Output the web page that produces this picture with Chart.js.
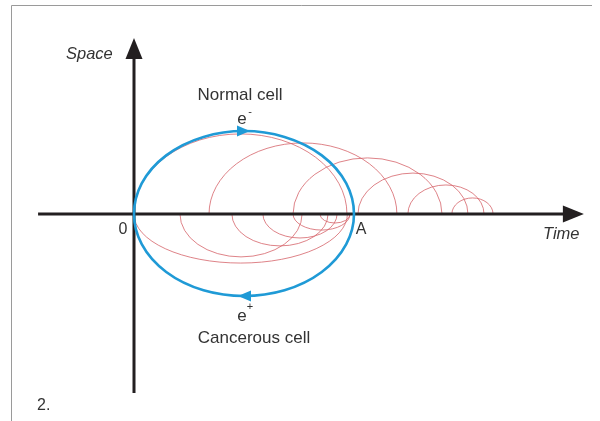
<!DOCTYPE html>
<html lang="en">
<head>
<meta charset="UTF-8">
<title>Normal cell / Cancerous cell</title>
<style>
  html, body { margin: 0; padding: 0; background: #fff; }
  #wrap { width: 600px; height: 421px; position: relative; }
</style>
</head>
<body>
<div id="wrap"><canvas id="chart"></canvas></div>

<script src="https://cdn.jsdelivr.net/npm/chart.js@4/dist/chart.umd.min.js"></script>
<script>
  // units: time 0 .. A = 10, space in the same units

  // normal cell (blue): start, end, height above axis, depth below axis
  const normalStart = 0;
  const normalEnd = 10;
  const normalUp = 3.77;
  const normalDown = 3.73;

  // cancerous cells, upper arcs
  const upperStart  = [0, 3.41, 7.23, 10.18, 12.45, 14.45];
  const upperEnd    = [9.68, 11.95, 14.0, 15.18, 15.91, 16.32];
  const upperHeight = [3.64, 3.23, 2.55, 1.86, 1.32, 0.73];

  // cancerous cells, lower arcs
  const lowerStart = [0, 2.09, 4.45, 5.86, 7.23, 8.45];
  const lowerEnd   = [9.7, 7.64, 8.82, 9.23, 9.82, 9.82];
  const lowerDepth = [2.23, 1.95, 1.45, 1.09, 0.73, 0.41];

  // axis extents
  const timeAxis = [-4.36, 20.45];
  const spaceAxis = [-8.14, 8.0];

  const RED = "rgba(214,100,106,0.8)";
  const BLUE = "#1f9ad6";
  const INK = "#231f20";
  const TEXT = "#333";
  const FONT = "'Liberation Sans', Arial, sans-serif";

  // half ellipse between two points of the time axis
  function halfArc(ctx, sx, sy, t0, t1, h, upper) {
    const x0 = sx.getPixelForValue(t0);
    const x1 = sx.getPixelForValue(t1);
    const y0 = sy.getPixelForValue(0);
    const ry = Math.abs(sy.getPixelForValue(h) - y0);
    ctx.beginPath();
    if (upper) ctx.ellipse((x0 + x1) / 2, y0, (x1 - x0) / 2, ry, 0, Math.PI, 2 * Math.PI);
    else ctx.ellipse((x0 + x1) / 2, y0, (x1 - x0) / 2, ry, 0, 0, Math.PI);
    ctx.stroke();
  }

  function tri(ctx, pts) {
    ctx.beginPath();
    ctx.moveTo(pts[0][0], pts[0][1]);
    ctx.lineTo(pts[1][0], pts[1][1]);
    ctx.lineTo(pts[2][0], pts[2][1]);
    ctx.closePath();
    ctx.fill();
  }

  const cellsPlugin = {
    id: "cells",
    beforeDatasetsDraw(chart) {
      const ctx = chart.ctx;
      const sx = chart.scales.x;
      const sy = chart.scales.y;
      ctx.save();

      // frame
      ctx.strokeStyle = "#9a9a9a";
      ctx.lineWidth = 1;
      ctx.beginPath();
      ctx.moveTo(11.5, 421);
      ctx.lineTo(11.5, 5.5);
      ctx.lineTo(592, 5.5);
      ctx.stroke();

      // red cells
      ctx.strokeStyle = RED;
      ctx.lineWidth = 1;
      for (let i = 0; i < upperStart.length; i++) {
        halfArc(ctx, sx, sy, upperStart[i], upperEnd[i], upperHeight[i], true);
      }
      for (let i = 0; i < lowerStart.length; i++) {
        halfArc(ctx, sx, sy, lowerStart[i], lowerEnd[i], lowerDepth[i], false);
      }

      // axes
      const ox = sx.getPixelForValue(0);
      const oy = sy.getPixelForValue(0);
      const xa = sx.getPixelForValue(timeAxis[0]);
      const xb = sx.getPixelForValue(timeAxis[1]);
      const ya = sy.getPixelForValue(spaceAxis[0]);
      const yb = sy.getPixelForValue(spaceAxis[1]);
      ctx.strokeStyle = INK;
      ctx.fillStyle = INK;
      ctx.lineWidth = 3;
      ctx.beginPath();
      ctx.moveTo(xa, oy);
      ctx.lineTo(xb - 16, oy);
      ctx.moveTo(ox, ya);
      ctx.lineTo(ox, yb + 16);
      ctx.stroke();
      tri(ctx, [[xb, oy], [xb - 21, oy - 8.5], [xb - 21, oy + 8.5]]);
      tri(ctx, [[ox, yb], [ox - 8.5, yb + 21], [ox + 8.5, yb + 21]]);

      // normal cell
      ctx.strokeStyle = BLUE;
      ctx.fillStyle = BLUE;
      ctx.lineWidth = 2.6;
      halfArc(ctx, sx, sy, normalStart, normalEnd, normalUp, true);
      halfArc(ctx, sx, sy, normalStart, normalEnd, normalDown, false);
      const mx = sx.getPixelForValue((normalStart + normalEnd) / 2);
      const ty = sy.getPixelForValue(normalUp);
      const by = sy.getPixelForValue(-normalDown);
      tri(ctx, [[mx + 6, ty], [mx - 7, ty - 5.5], [mx - 7, ty + 5.5]]);
      tri(ctx, [[mx - 6, by], [mx + 7, by - 5.5], [mx + 7, by + 5.5]]);

      // labels
      ctx.fillStyle = TEXT;
      ctx.textBaseline = "alphabetic";
      ctx.font = "17px " + FONT;
      ctx.textAlign = "center";
      ctx.fillText("Normal cell", 240, 100);
      ctx.fillText("Cancerous cell", 254, 343);
      ctx.fillText("e", mx - 2, ty - 7);
      ctx.fillText("e", mx - 2, by + 25);
      ctx.font = "11px " + FONT;
      ctx.fillText("-", mx + 6, ty - 16);
      ctx.fillText("+", mx + 6, by + 14);
      ctx.font = "16px " + FONT;
      ctx.fillText("0", ox - 11, oy + 20);
      ctx.fillText("A", sx.getPixelForValue(normalEnd) + 7, oy + 20);
      ctx.textAlign = "left";
      ctx.fillText("2.", 37, 410);
      ctx.font = "italic 16.5px " + FONT;
      ctx.fillText("Space", 66, 59);
      ctx.fillText("Time", 543, 239);
      ctx.restore();
    }
  };

  new Chart(document.getElementById("chart"), {
    type: "scatter",
    data: {
      datasets: [
        {
          label: "cells",
          data: [{ x: normalStart, y: 0 }, { x: normalEnd, y: 0 }],
          pointRadius: 0,
        },
      ],
    },
    options: {
      responsive: true,
      maintainAspectRatio: false,
      animation: false,
      layout: { padding: 0 },
      plugins: { legend: { display: false }, tooltip: { enabled: false } },
      scales: {
        x: { type: "linear", min: -6.091, max: 21.182, display: false },
        y: { type: "linear", min: -9.409, max: 9.727, display: false },
      },
    },
    plugins: [cellsPlugin],
  });
</script>
</body>
</html>
